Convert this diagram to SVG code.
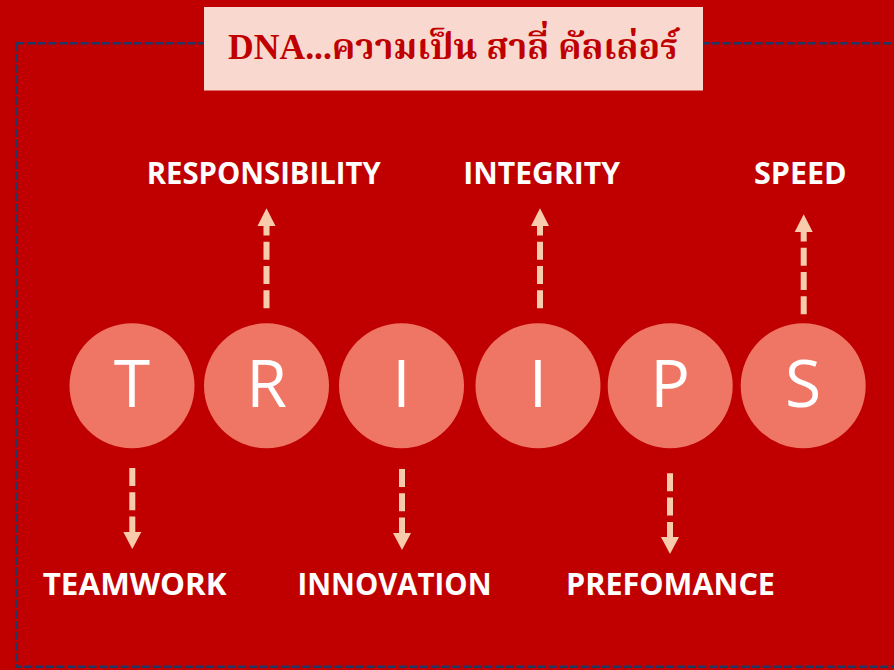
<svg xmlns="http://www.w3.org/2000/svg" width="894" height="670" viewBox="0 0 894 670">
<defs>
<style>
.c{fill:#EF7664}
.l{font-family:"Open Sans","Liberation Sans",sans-serif;font-size:66px;fill:#fff;text-anchor:middle}
.t{font-family:"Open Sans","Liberation Sans",sans-serif;font-weight:bold;font-size:31px;fill:#fff}
.sh{stroke:#F8CBAD;stroke-width:6;stroke-dasharray:18 6.3;fill:none}
.hd{fill:#F8CBAD}
</style>
</defs>
<rect x="0" y="0" width="894" height="670" fill="#C00000"/>
<rect x="16.3" y="43.3" width="900" height="623.4" fill="none" stroke="#203864" stroke-width="2.5" stroke-dasharray="8 2.7"/>
<g id="title">
<rect x="204" y="7" width="499" height="83.5" fill="#F9D8CF"/>
<text x="228" y="59" textLength="450" lengthAdjust="spacingAndGlyphs" font-family="Liberation Serif, 'Noto Serif Thai', 'Noto Sans Thai', serif" font-weight="bold" font-size="36" fill="#C00000">DNA...ความเป็น สาลี่ คัลเล่อร์</text>
</g>
<g id="node-T"><circle class="c" cx="132" cy="385.8" r="62.5"/><text class="l" x="132" y="407.3">T</text></g>
<g id="node-R"><circle class="c" cx="266.5" cy="385.8" r="62.5"/><text class="l" x="266.5" y="407.3">R</text></g>
<g id="node-I1"><circle class="c" cx="401.5" cy="385.8" r="62.5"/><text class="l" x="401.5" y="407.3">I</text></g>
<g id="node-I2"><circle class="c" cx="538" cy="385.8" r="62.5"/><text class="l" x="538" y="407.3">I</text></g>
<g id="node-P"><circle class="c" cx="670.2" cy="385.8" r="62.5"/><text class="l" x="670.2" y="407.3">P</text></g>
<g id="node-S"><circle class="c" cx="803.2" cy="385.8" r="62.5"/><text class="l" x="803.2" y="407.3">S</text></g>
<g id="connectors">
<line class="sh" x1="266.5" y1="308.3" x2="266.5" y2="226"/><polygon class="hd" points="257.5,226 275.5,226 266.5,208.3"/>
<line class="sh" x1="540" y1="308.3" x2="540" y2="226"/><polygon class="hd" points="531,226 549,226 540,208.3"/>
<line class="sh" x1="803.7" y1="314.3" x2="803.7" y2="232"/><polygon class="hd" points="794.7,232 812.7,232 803.7,214.3"/>
<line class="sh" x1="132.3" y1="468" x2="132.3" y2="532"/><polygon class="hd" points="123.3,532 141.3,532 132.3,549"/>
<line class="sh" x1="402" y1="469" x2="402" y2="533"/><polygon class="hd" points="393,533 411,533 402,550"/>
<line class="sh" x1="670" y1="473.3" x2="670" y2="537"/><polygon class="hd" points="661,537 679,537 670,554"/>
</g>
<g id="labels">
<text class="t" x="146.7" y="184" textLength="234" lengthAdjust="spacingAndGlyphs">RESPONSIBILITY</text>
<text class="t" x="463.3" y="184" textLength="156.7" lengthAdjust="spacingAndGlyphs">INTEGRITY</text>
<text class="t" x="754" y="184" textLength="92.7" lengthAdjust="spacingAndGlyphs">SPEED</text>
<text class="t" x="42.7" y="595" textLength="184" lengthAdjust="spacingAndGlyphs">TEAMWORK</text>
<text class="t" x="297.5" y="595" textLength="194" lengthAdjust="spacingAndGlyphs">INNOVATION</text>
<text class="t" x="566" y="595" textLength="209" lengthAdjust="spacingAndGlyphs">PREFOMANCE</text>
</g>
</svg>
